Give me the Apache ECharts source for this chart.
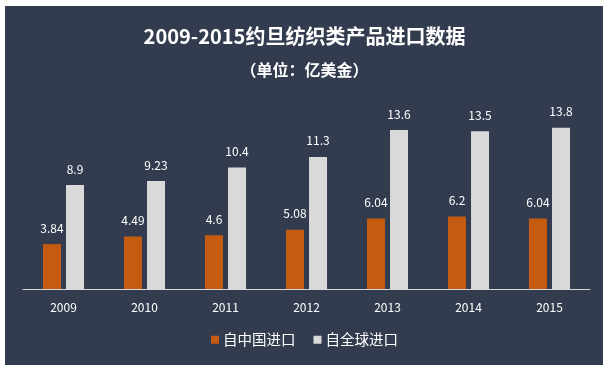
<!DOCTYPE html>
<html><head><meta charset="utf-8">
<script src="https://cdn.jsdelivr.net/npm/echarts@6/dist/echarts.min.js"></script>
<style>html,body{margin:0;padding:0;background:#fff}#c{width:609px;height:368px}</style>
</head><body><div id="c"></div>
<script>
const years = ['2009','2010','2011','2012','2013','2014','2015'];
const fromChina = [3.84, 4.49, 4.6, 5.08, 6.04, 6.2, 6.04];
const fromWorld = [8.9, 9.23, 10.4, 11.3, 13.6, 13.5, 13.8];
const seriesNames = ['自中国进口', '自全球进口'];
const titleText = '2009-2015约旦纺织类产品进口数据';
const subtitleText = '（单位：亿美金）';

const FONT = '"Noto Sans CJK SC", "Noto Sans", sans-serif';
const chart = echarts.init(document.getElementById('c'));
chart.setOption({
  backgroundColor: '#ffffff',
  animation: false,
  graphic: [{
    type: 'rect', left: 5, top: 6, z: -10,
    shape: { width: 598, height: 359 },
    style: { fill: '#333c4f' }, silent: true
  }],
  title: {
    text: titleText,
    subtext: subtitleText,
    left: 'center', top: 21,
    itemGap: 16,
    textStyle: { color: '#ffffff', fontSize: 20, fontWeight: 'bold', fontFamily: FONT },
    subtextStyle: { color: '#ffffff', fontSize: 16, fontWeight: 'bold', fontFamily: FONT }
  },
  legend: {
    data: seriesNames,
    bottom: 16, left: 'center',
    icon: 'rect', itemWidth: 8, itemHeight: 8, itemGap: 18,
    textStyle: { color: '#ffffff', fontSize: 14.5, fontFamily: FONT, padding: [0, 0, 0, -1] }
  },
  grid: { left: 23, right: 19, top: 102, bottom: 79 },
  xAxis: {
    type: 'category', data: years,
    axisLine: { lineStyle: { color: '#d9d9d9', width: 1 } },
    axisTick: { show: false },
    axisLabel: { color: '#ffffff', fontSize: 12, margin: 12, fontFamily: FONT }
  },
  yAxis: { type: 'value', min: 0, max: 16, show: false, splitLine: { show: false } },
  series: [
    {
      name: seriesNames[0], type: 'bar', data: fromChina,
      barWidth: 18, barGap: '28%',
      itemStyle: { color: '#c55a11' },
      label: { show: true, position: 'top', distance: 10, color: '#ffffff', fontSize: 12, fontFamily: FONT }
    },
    {
      name: seriesNames[1], type: 'bar', data: fromWorld,
      barWidth: 18,
      itemStyle: { color: '#d9d9d9' },
      label: { show: true, position: 'top', distance: 10, color: '#ffffff', fontSize: 12, fontFamily: FONT }
    }
  ]
});
</script></body></html>
